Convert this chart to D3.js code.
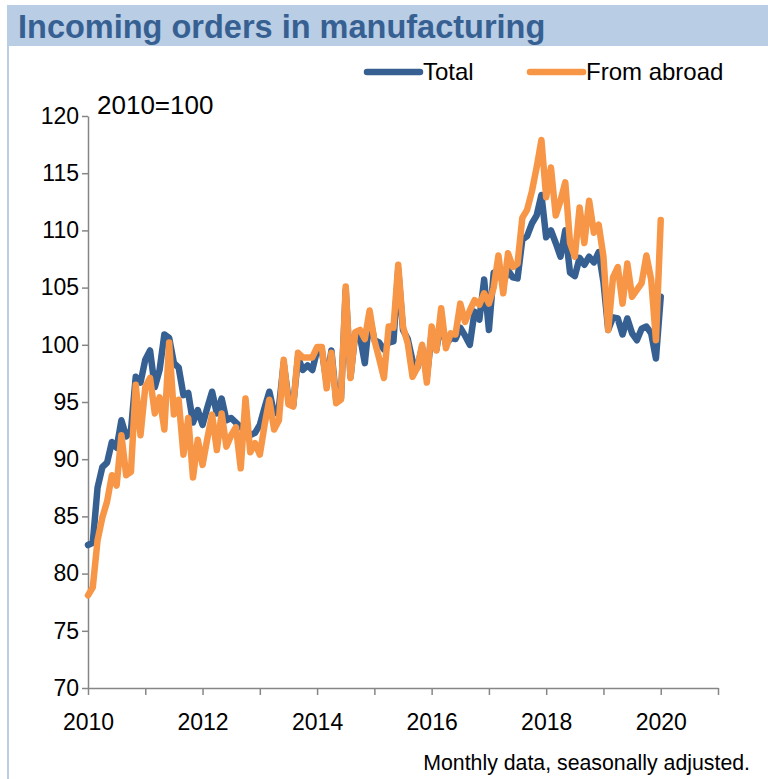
<!DOCTYPE html>
<html>
<head>
<meta charset="utf-8">
<script src="https://cdn.jsdelivr.net/npm/d3@7"></script>
<style>
  body { margin: 0; background: #fff; }
  svg text { font-family: "Liberation Sans", Arial, sans-serif; }
</style>
</head>
<body>
<div class="chart"></div>
<script>
"use strict";
(function(){

// monthly index values, Jan 2010 .. Jan 2020 (2010=100)
var total = [
  82.5, 82.7, 87.5, 89.3, 89.7, 91.5, 91.0, 93.4, 92.0, 92.5,
  97.2, 96.7, 98.7, 99.5, 96.3, 97.8, 100.9, 100.6, 98.4, 98.0,
  95.6, 95.8, 93.2, 94.3, 93.0, 94.5, 95.9, 94.0, 95.3, 93.4,
  93.6, 93.2, 92.8, 92.4, 92.1, 92.3, 93.0, 94.5, 95.9, 94.0,
  94.5, 98.4, 95.3, 94.7, 98.9, 97.8, 98.2, 97.8, 99.5, 99.5,
  96.7, 99.5, 95.2, 95.3, 104.8, 97.2, 101.0, 100.7, 98.4, 102.5,
  100.4, 100.2, 99.6, 100.2, 100.3, 106.6, 101.3, 100.5, 98.6, 98.0,
  99.8, 97.2, 101.0, 99.6, 102.2, 100.0, 100.6, 100.5, 101.5, 100.8,
  100.0, 102.9, 102.2, 105.7, 101.3, 106.3, 106.4, 105.4, 106.5, 105.9,
  105.8, 109.2, 109.5, 110.6, 111.3, 113.1, 109.4, 110.0, 108.9, 107.7,
  110.0, 106.3, 106.0, 107.6, 107.0, 107.7, 107.2, 108.1, 105.5, 101.3,
  102.4, 102.3, 100.9, 102.3, 101.0, 100.4, 101.4, 101.6, 101.0, 98.8,
  104.2
];

var fromAbroad = [
  78.1, 78.8, 82.9, 84.9, 86.3, 88.6, 87.7, 92.1, 88.6, 88.9,
  96.5, 92.1, 96.3, 97.1, 94.0, 95.4, 92.6, 100.2, 93.9, 95.2,
  90.4, 93.6, 88.4, 91.7, 89.5, 91.8, 93.9, 90.8, 94.0, 91.1,
  92.1, 92.8, 89.2, 95.3, 90.6, 91.4, 90.4, 93.0, 95.2, 92.6,
  93.4, 98.7, 94.8, 94.6, 99.3, 98.9, 98.9, 98.9, 99.8, 99.8,
  96.2, 99.3, 94.9, 95.2, 105.1, 97.1, 101.1, 101.3, 100.5, 103.0,
  100.4, 98.8, 97.1, 101.6, 101.5, 107.0, 101.6, 100.1, 97.2, 98.0,
  100.0, 96.7, 101.6, 99.5, 103.2, 99.7, 101.0, 100.9, 103.6, 102.0,
  103.0, 103.9, 103.5, 104.5, 103.6, 105.0, 107.8, 104.5, 108.0, 106.8,
  107.1, 111.1, 111.8, 113.4, 115.5, 117.9, 112.9, 115.5, 111.3, 112.6,
  114.2, 108.9, 107.7, 112.0, 108.9, 112.6, 109.8, 110.5, 107.7, 101.3,
  105.9, 106.8, 103.6, 107.1, 104.2, 104.8, 105.4, 107.8, 105.7, 100.4,
  110.9
];

var seriesNames = ['Total', 'From abroad'];
var seriesColors = ['#376092', '#f79646'];
var yTicks = [70, 75, 80, 85, 90, 95, 100, 105, 110, 115, 120];
var years = [2010, 2011, 2012, 2013, 2014, 2015, 2016, 2017, 2018, 2019, 2020, 2021];
var yearLabels = [2010, 2012, 2014, 2016, 2018, 2020];

var width = 768;
var height = 779;
var axisColor = '#868686';

var svg = d3.select('.chart')
            .append('svg')
            .attr('width', width)
            .attr('height', height);

// frame + title bar
svg.append('rect')
   .attr('x', 7).attr('y', 5)
   .attr('width', width - 7).attr('height', 41)
   .attr('fill', '#b9cde5');

svg.append('line')
   .attr('x1', 8).attr('x2', 8)
   .attr('y1', 46).attr('y2', height)
   .attr('stroke', '#b9cde5')
   .attr('stroke-width', 2);

svg.append('text')
   .attr('x', 18).attr('y', 38)
   .attr('fill', '#376092')
   .attr('font-size', 32.5)
   .attr('font-weight', 'bold')
   .text('Incoming orders in manufacturing');

var x = d3.scaleLinear()
          .domain([0, (years[years.length - 1] - years[0]) * 12])
          .range([88, 718]);

var y = d3.scaleLinear()
          .domain([70, 120])
          .range([688, 116]);

function monthOf(year){
  return (year - years[0]) * 12
}

var yAxis = svg.append('g')
               .attr('transform', 'translate(' + x(0) + ',0)')
               .call(d3.axisLeft(y)
                       .tickValues(yTicks)
                       .tickSize(6)
                       .tickSizeOuter(0)
                       .tickPadding(3));

var xAxis = svg.append('g')
               .attr('transform', 'translate(0,' + y(70) + ')')
               .call(d3.axisBottom(x)
                       .tickValues(years.map(monthOf))
                       .tickSize(7)
                       .tickSizeOuter(0)
                       .tickPadding(19)
                       .tickFormat(function(m){
                         var yr = years[0] + m / 12
                         return yearLabels.indexOf(yr) >= 0 ? yr : ''
                       }));

[xAxis, yAxis].forEach(function(g){
  g.select('.domain').attr('stroke', axisColor).attr('stroke-width', 1.5);
  g.selectAll('.tick line').attr('stroke', axisColor).attr('stroke-width', 1.5);
  g.selectAll('.tick text')
   .attr('fill', '#000')
   .attr('font-size', 23)
   .style('font-family', '"Liberation Sans", Arial, sans-serif');
});

svg.append('text')
   .attr('x', 97).attr('y', 114)
   .attr('font-size', 26)
   .text('2010=100');

var line = d3.line()
             .x(function(d, i){ return x(i) })
             .y(function(d){ return y(d) })
             .curve(d3.curveLinear);

[total, fromAbroad].forEach(function(series, k){
  svg.append('path')
     .datum(series)
     .attr('fill', 'none')
     .attr('stroke', seriesColors[k])
     .attr('stroke-width', 6.5)
     .attr('stroke-linejoin', 'round')
     .attr('stroke-linecap', 'round')
     .attr('d', line);
});

// legend
var legendX = [367, 530];
seriesNames.forEach(function(name, k){
  var g = svg.append('g').attr('transform', 'translate(' + legendX[k] + ',72)');
  g.append('line')
   .attr('x1', 0).attr('x2', 53)
   .attr('stroke', seriesColors[k])
   .attr('stroke-width', 6.5)
   .attr('stroke-linecap', 'round');
  g.append('text')
   .attr('x', 56).attr('y', 8)
   .attr('font-size', 24)
   .text(name);
});

svg.append('text')
   .attr('x', 750).attr('y', 770)
   .attr('text-anchor', 'end')
   .attr('font-size', 21.3)
   .text('Monthly data, seasonally adjusted.');

})();
</script>
</body>
</html>
